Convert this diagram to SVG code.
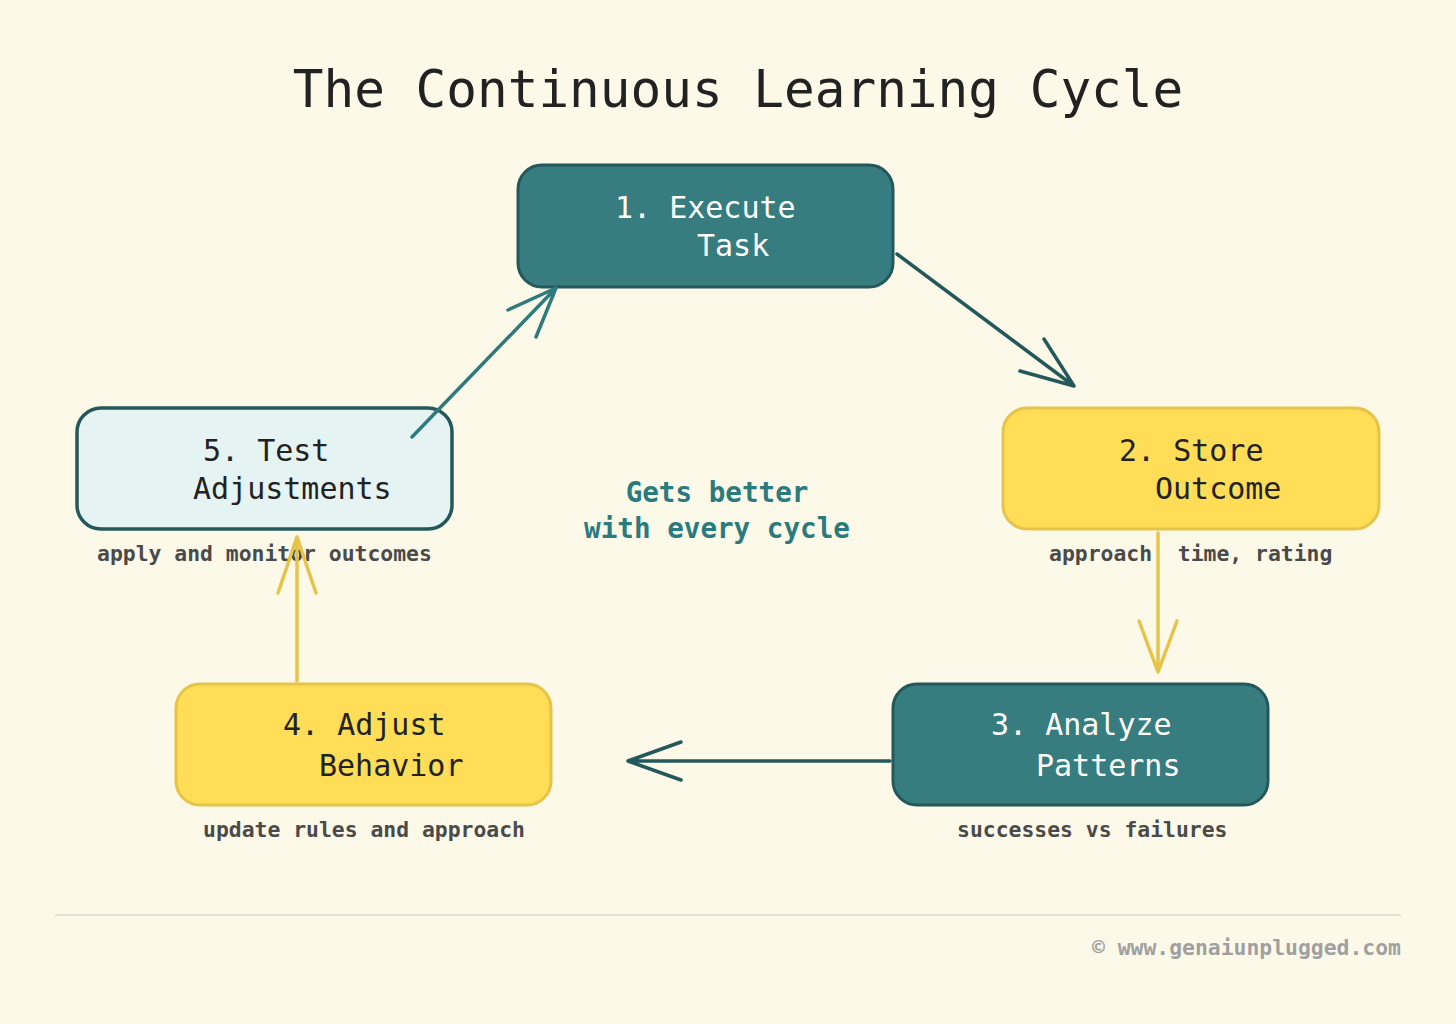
<svg xmlns="http://www.w3.org/2000/svg" width="1456" height="1024" viewBox="0 0 1456 1024">
<style>
text{font-family:"DejaVu Sans Mono","Liberation Mono",monospace;}
.title{font-size:51px;fill:#222;}
.lbl{font-size:30px;}
.lw{fill:#ffffff;}
.ld{fill:#222222;}
.sub{font-size:21.4px;fill:#4a4a4a;font-weight:bold;}
.teal{fill:#377d80;stroke:#24595c;stroke-width:3;}
.yel{fill:#ffdd57;stroke:#e6c44a;stroke-width:3;}
.light{fill:#e6f3f3;stroke:#24595c;stroke-width:3.5;}
.c{fill:none;stroke-width:3.5;stroke-linecap:round;stroke-linejoin:round;}
.cd{stroke:#24595c;}
.cy{stroke:#e6c44a;}
.ct{stroke:#2e7b7e;}
</style>
<rect width="1456" height="1024" fill="#fdf9e9"/>
<text class="title" x="738" y="107" text-anchor="middle">The Continuous Learning Cycle</text>

<g id="node1">
<rect class="teal" x="518" y="165" width="375" height="122" rx="24"/>
<text class="lbl lw" x="615" y="218">1. Execute</text>
<text class="lbl lw" x="697" y="256">Task</text>
</g>
<g id="node2">
<rect class="yel" x="1003" y="408" width="376" height="121" rx="24"/>
<text class="lbl ld" x="1119" y="461">2. Store</text>
<text class="lbl ld" x="1155" y="499">Outcome</text>
<text class="sub" x="1049" y="561" xml:space="preserve">approach  time, rating</text>
</g>
<g id="node3">
<rect class="teal" x="893" y="684" width="375" height="121" rx="24"/>
<text class="lbl lw" x="991" y="735">3. Analyze</text>
<text class="lbl lw" x="1036" y="776">Patterns</text>
<text class="sub" x="957" y="837">successes vs failures</text>
</g>
<g id="node4">
<rect class="yel" x="176" y="684" width="375" height="121" rx="24"/>
<text class="lbl ld" x="283" y="735">4. Adjust</text>
<text class="lbl ld" x="319" y="776">Behavior</text>
<text class="sub" x="203" y="837">update rules and approach</text>
</g>
<g id="node5">
<rect class="light" x="77" y="408" width="375" height="121" rx="24"/>
<text class="lbl ld" x="203" y="461">5. Test</text>
<text class="lbl ld" x="193" y="499">Adjustments</text>
<text class="sub" x="97" y="561">apply and monitor outcomes</text>
</g>

<g id="center">
<text x="717" y="502" text-anchor="middle" style="font-size:27.6px;fill:#2a7b7e;font-weight:bold">Gets better</text>
<text x="717" y="538" text-anchor="middle" style="font-size:27.6px;fill:#2a7b7e;font-weight:bold">with every cycle</text>
</g>

<g id="connectors">
<path class="c cd" d="M897 254 L1074 386 M1020 371 L1074 386 L1044 339"/>
<path class="c cy" d="M1158 533 L1158 672 M1139 621 L1158 672 L1177 621"/>
<path class="c cd" d="M890 761 L628 761 M681 742 L628 761 L681 780"/>
<path class="c cy" d="M297 681 L297 537 M278 593 L297 537 L316 593"/>
<path class="c ct" d="M412 437 L556 288 M508 310 L556 288 L536 337"/>
</g>

<line x1="55" y1="915" x2="1401" y2="915" stroke="#e3e0d3" stroke-width="2"/>
<text x="1401" y="955" text-anchor="end" style="font-size:21.4px;fill:#a0a0a0;font-weight:bold">© www.genaiunplugged.com</text>
</svg>
